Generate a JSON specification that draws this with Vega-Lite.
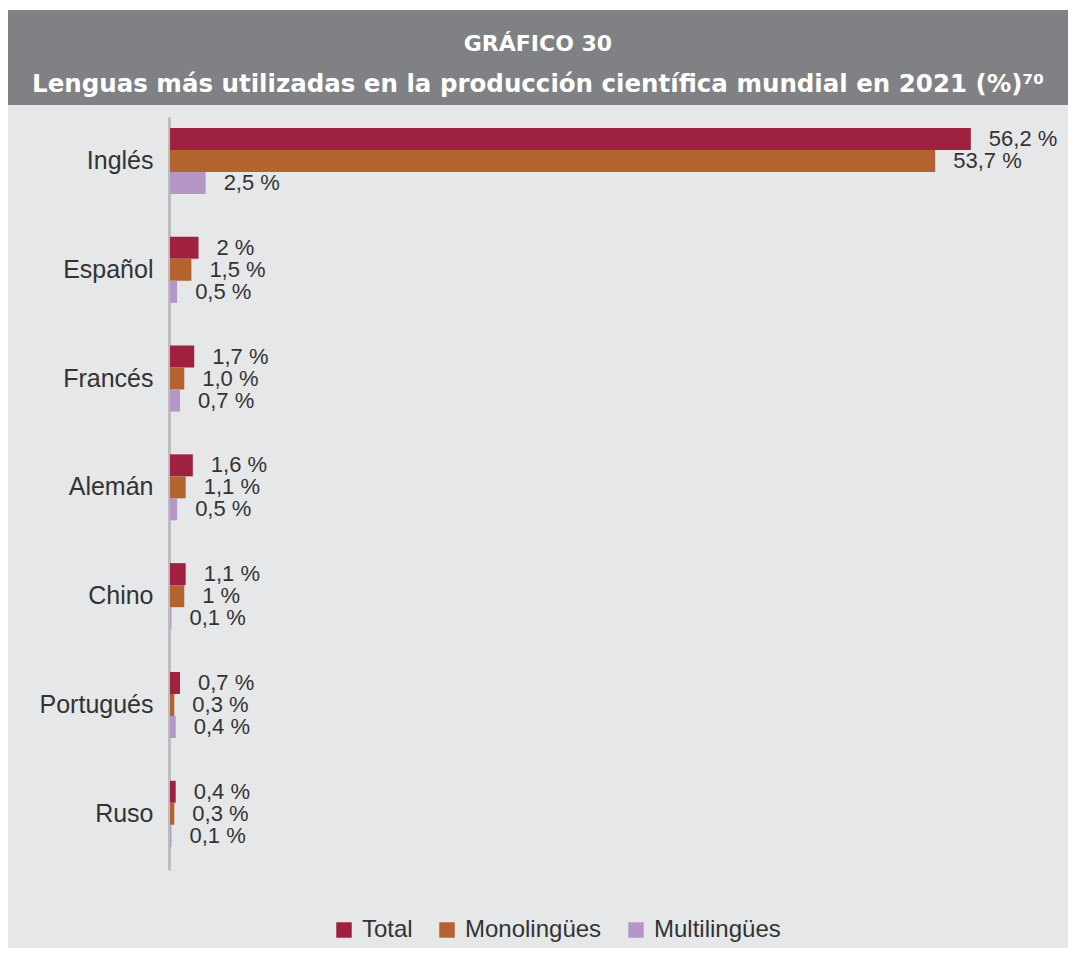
{
  "$schema": "https://vega.github.io/schema/vega-lite/v6.json",
  "background": "white",
  "padding": {"left": 8, "right": 8, "top": 10, "bottom": 5},
  "spacing": 0,
  "config": {
    "view": {"stroke": null},
    "font": "Liberation Sans",
    "concat": {"spacing": 0}
  },
  "datasets": {
    "titulo": [
      {"linea": 1, "texto": "GRÁFICO 30", "tam": "a"},
      {"linea": 2, "texto": "Lenguas más utilizadas en la producción científica mundial en 2021 (%)⁷⁰", "tam": "b"}
    ],
    "lenguas": [
      {"lengua": "Inglés", "serie": "Total", "valor": 56.2, "etiqueta": "56,2 %"},
      {"lengua": "Inglés", "serie": "Monolingües", "valor": 53.7, "etiqueta": "53,7 %"},
      {"lengua": "Inglés", "serie": "Multilingües", "valor": 2.5, "etiqueta": "2,5 %"},
      {"lengua": "Español", "serie": "Total", "valor": 2.0, "etiqueta": "2 %"},
      {"lengua": "Español", "serie": "Monolingües", "valor": 1.5, "etiqueta": "1,5 %"},
      {"lengua": "Español", "serie": "Multilingües", "valor": 0.5, "etiqueta": "0,5 %"},
      {"lengua": "Francés", "serie": "Total", "valor": 1.7, "etiqueta": "1,7 %"},
      {"lengua": "Francés", "serie": "Monolingües", "valor": 1.0, "etiqueta": "1,0 %"},
      {"lengua": "Francés", "serie": "Multilingües", "valor": 0.7, "etiqueta": "0,7 %"},
      {"lengua": "Alemán", "serie": "Total", "valor": 1.6, "etiqueta": "1,6 %"},
      {"lengua": "Alemán", "serie": "Monolingües", "valor": 1.1, "etiqueta": "1,1 %"},
      {"lengua": "Alemán", "serie": "Multilingües", "valor": 0.5, "etiqueta": "0,5 %"},
      {"lengua": "Chino", "serie": "Total", "valor": 1.1, "etiqueta": "1,1 %"},
      {"lengua": "Chino", "serie": "Monolingües", "valor": 1.0, "etiqueta": "1 %"},
      {"lengua": "Chino", "serie": "Multilingües", "valor": 0.1, "etiqueta": "0,1 %"},
      {"lengua": "Portugués", "serie": "Total", "valor": 0.7, "etiqueta": "0,7 %"},
      {"lengua": "Portugués", "serie": "Monolingües", "valor": 0.3, "etiqueta": "0,3 %"},
      {"lengua": "Portugués", "serie": "Multilingües", "valor": 0.4, "etiqueta": "0,4 %"},
      {"lengua": "Ruso", "serie": "Total", "valor": 0.4, "etiqueta": "0,4 %"},
      {"lengua": "Ruso", "serie": "Monolingües", "valor": 0.3, "etiqueta": "0,3 %"},
      {"lengua": "Ruso", "serie": "Multilingües", "valor": 0.1, "etiqueta": "0,1 %"}
    ]
  },
  "vconcat": [
    {
      "width": 1060,
      "height": 95,
      "view": {"fill": "#808184", "stroke": null},
      "data": {"name": "titulo"},
      "mark": {"type": "text", "color": "white", "fontWeight": "bold", "baseline": "alphabetic", "align": "center", "font": "DejaVu Sans"},
      "encoding": {
        "y": {"field": "linea", "type": "ordinal", "axis": null, "scale": {"padding": 0.6585, "align": 0.759}},
        "text": {"field": "texto"},
        "size": {"field": "tam", "type": "nominal", "legend": null, "scale": {"domain": ["a", "b"], "range": [22, 24.5]}}
      }
    },
    {
      "width": 1060,
      "height": 843,
      "view": {"fill": "#e6e7e8", "stroke": null},
      "data": {"name": "lenguas"},
      "encoding": {
        "y": {
          "field": "lengua",
          "type": "nominal",
          "sort": ["Inglés", "Español", "Francés", "Alemán", "Chino", "Portugués", "Ruso"],
          "scale": {"range": [12, 765], "paddingInner": 0.3934, "paddingOuter": 0.157, "align": 0.32},
          "axis": {
            "title": null,
            "orient": "left",
            "offset": -161,
            "ticks": false,
            "labelPadding": 16,
            "labelFontSize": 25,
            "labelColor": "#333333",
            "labelFont": "Liberation Sans",
            "domainColor": "#bcbdbf",
            "domainWidth": 3
          }
        },
        "yOffset": {
          "field": "serie",
          "type": "nominal",
          "sort": ["Total", "Monolingües", "Multilingües"],
          "scale": {"paddingInner": 0, "paddingOuter": 0}
        },
        "x": {
          "field": "valor",
          "type": "quantitative",
          "axis": null,
          "scale": {"domain": [-11.37, 63.02], "nice": false, "zero": false}
        }
      },
      "layer": [
        {
          "mark": {"type": "bar", "stack": null},
          "encoding": {
            "x2": {"datum": 0},
            "color": {
              "field": "serie",
              "type": "nominal",
              "sort": ["Total", "Monolingües", "Multilingües"],
              "scale": {"domain": ["Total", "Monolingües", "Multilingües"], "range": ["#a0213f", "#b4622e", "#b497c7"]},
              "legend": {
                "title": null,
                "orient": "none",
                "direction": "horizontal",
                "legendX": 324,
                "legendY": 908,
                "symbolType": "square",
                "symbolSize": 240,
                "symbolStrokeWidth": 0,
                "labelFontSize": 24,
                "labelColor": "#333333",
                "labelFont": "Liberation Sans",
                "labelOffset": 6,
                "columnPadding": 22
              }
            }
          }
        },
        {
          "mark": {"type": "text", "align": "left", "baseline": "middle", "dx": 18, "fontSize": 22, "color": "#333333", "font": "Liberation Sans"},
          "encoding": {
            "text": {"field": "etiqueta"}
          }
        }
      ]
    }
  ]
}
